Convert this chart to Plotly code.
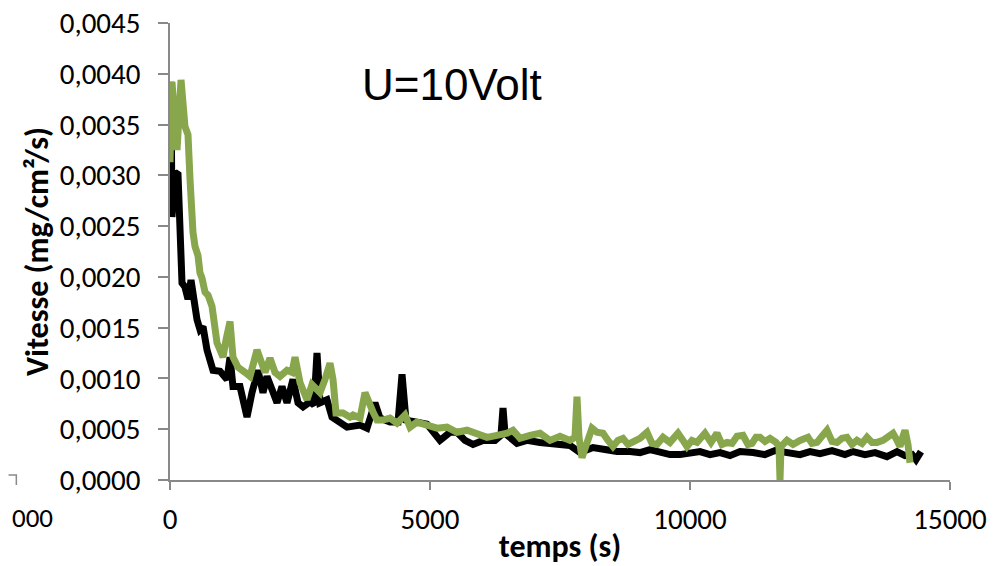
import plotly.graph_objects as go

# ---- data ----
black_t = [0, 19, 38, 96, 154, 192, 231, 288, 346, 404, 462, 519, 577, 635, 712, 827, 962, 1096,
           1154, 1211, 1346, 1481, 1577, 1692, 1788, 1865, 1962, 2058, 2154, 2250, 2365, 2462,
           2558, 2692, 2769, 2827, 2885, 3019, 3115, 3211, 3404, 3654, 3788, 3942, 4038, 4231,
           4385, 4462, 4538, 4750, 4942, 5192, 5385, 5519, 5673, 5827, 6019, 6250, 6365, 6404,
           6442, 6673, 6865, 7115, 7404, 7692, 7885, 8135, 8365, 8596, 8846, 9038, 9231, 9423,
           9615, 9808, 10000, 10192, 10385, 10577, 10769, 10962, 11212, 11442, 11635, 11865,
           12115, 12308, 12500, 12731, 12981, 13135, 13365, 13558, 13788, 13981, 14135, 14269,
           14346, 14442]
black_v = [0.00316, 0.00392, 0.00259, 0.00303, 0.00301, 0.00227, 0.00194, 0.00190, 0.00178,
           0.00197, 0.00173, 0.00158, 0.00148, 0.00151, 0.00128, 0.00108, 0.00107, 0.00099,
           0.00121, 0.00092, 0.00092, 0.00062, 0.00086, 0.00108, 0.00086, 0.00102, 0.00089,
           0.00076, 0.00092, 0.00076, 0.00099, 0.00076, 0.00072, 0.00077, 0.00074, 0.00125,
           0.00076, 0.00079, 0.00062, 0.00059, 0.00052, 0.00054, 0.00051, 0.00076, 0.00061,
           0.00057, 0.00057, 0.00104, 0.00059, 0.00057, 0.00055, 0.00039, 0.00047, 0.00047,
           0.00039, 0.00035, 0.00039, 0.00039, 0.00044, 0.00071, 0.00046, 0.00036, 0.00039,
           0.00037, 0.00035, 0.00034, 0.00027, 0.00032, 0.00030, 0.00028, 0.00028, 0.00027,
           0.00030, 0.00028, 0.00025, 0.00025, 0.00027, 0.00028, 0.00025, 0.00027, 0.00024,
           0.00028, 0.00027, 0.00025, 0.00029, 0.00027, 0.00025, 0.00028, 0.00026, 0.00029,
           0.00025, 0.00028, 0.00025, 0.00027, 0.00023, 0.00028, 0.00024, 0.00025, 0.00020,
           0.00028]

green_t = [0, 38, 135, 212, 288, 346, 385, 404, 442, 481, 538, 577, 615, 673, 731, 808, 846,
           904, 962, 1019, 1077, 1154, 1211, 1308, 1442, 1538, 1673, 1769, 1827, 1923, 2019,
           2115, 2250, 2346, 2404, 2500, 2635, 2731, 2885, 2981, 3077, 3135, 3192, 3327, 3461,
           3519, 3654, 3750, 3808, 3904, 3981, 4096, 4231, 4365, 4519, 4615, 4750, 4942, 5135,
           5327, 5519, 5712, 5904, 6096, 6288, 6481, 6596, 6731, 6923, 7115, 7308, 7500, 7692,
           7788, 7827, 7865, 7923, 8000, 8115, 8211, 8327, 8423, 8519, 8615, 8711, 8808, 8904,
           9038, 9173, 9269, 9365, 9481, 9615, 9769, 9865, 9942, 10038, 10135, 10288, 10404,
           10519, 10615, 10712, 10808, 10904, 11019, 11115, 11192, 11269, 11346, 11442, 11538,
           11654, 11712, 11731, 11750, 11865, 11981, 12115, 12269, 12346, 12442, 12538, 12635,
           12731, 12827, 12923, 13019, 13115, 13211, 13308, 13404, 13500, 13596, 13711, 13808,
           13904, 13981, 14038, 14096, 14135, 14192, 14231]
green_v = [0.00313, 0.00392, 0.00325, 0.00394, 0.00348, 0.00340, 0.00296, 0.00256, 0.00244,
           0.00230, 0.00221, 0.00204, 0.00199, 0.00185, 0.00182, 0.00171, 0.00158, 0.00135,
           0.00128, 0.00121, 0.00138, 0.00156, 0.00121, 0.00111, 0.00106, 0.00102, 0.00128,
           0.00115, 0.00106, 0.00120, 0.00106, 0.00102, 0.00108, 0.00106, 0.00121, 0.00096,
           0.00079, 0.00094, 0.00086, 0.00099, 0.00115, 0.00099, 0.00066, 0.00066, 0.00062,
           0.00064, 0.00061, 0.00086, 0.00077, 0.00067, 0.00059, 0.00059, 0.00061, 0.00056,
           0.00064, 0.00052, 0.00057, 0.00054, 0.00051, 0.00052, 0.00047, 0.00049, 0.00046,
           0.00042, 0.00044, 0.00046, 0.00049, 0.00041, 0.00044, 0.00046, 0.00039, 0.00043,
           0.00039, 0.00042, 0.00082, 0.00042, 0.00022, 0.00035, 0.00051, 0.00047, 0.00046,
           0.00039, 0.00033, 0.00039, 0.00041, 0.00035, 0.00037, 0.00041, 0.00047, 0.00036,
           0.00035, 0.00042, 0.00037, 0.00046, 0.00039, 0.00033, 0.00039, 0.00037, 0.00046,
           0.00037, 0.00046, 0.00035, 0.00037, 0.00036, 0.00043, 0.00044, 0.00035, 0.00036,
           0.00042, 0.00042, 0.00038, 0.00041, 0.00037, 0.00033, 0.00000, 0.00033, 0.00039,
           0.00035, 0.00039, 0.00042, 0.00036, 0.00037, 0.00043, 0.00049, 0.00038, 0.00037,
           0.00041, 0.00042, 0.00035, 0.00039, 0.00036, 0.00042, 0.00037, 0.00037, 0.00039,
           0.00042, 0.00046, 0.00039, 0.00033, 0.00043, 0.00049, 0.00035, 0.00017]

x_ticks = [0, 5000, 10000, 15000]
y_ticks = [0.0, 0.0005, 0.0010, 0.0015, 0.0020, 0.0025, 0.0030, 0.0035, 0.0040, 0.0045]

FONT = "Carlito, Lato, sans-serif"
AXIS_GRAY = "#898989"

fig = go.Figure()
fig.add_trace(go.Scatter(x=black_t, y=black_v, mode="lines",
                         line=dict(color="#000000", width=7), showlegend=False))
fig.add_trace(go.Scatter(x=green_t, y=green_v, mode="lines",
                         line=dict(color="#88A64B", width=7), showlegend=False))

fig.update_layout(
    width=990, height=558,
    margin=dict(l=162, r=48, t=15, b=86, autoexpand=False),
    paper_bgcolor="white", plot_bgcolor="white",
    separators=", ",
    font=dict(family=FONT, color="#000000"),
    showlegend=False,
)
fig.update_xaxes(
    range=[0, 15000], tickvals=x_ticks, tickformat="d", automargin=False,
    showline=True, linecolor=AXIS_GRAY, linewidth=1.5,
    ticks="outside", ticklen=8, tickcolor=AXIS_GRAY, tickwidth=1.5,
    showgrid=False, zeroline=False, ticklabeloverflow="allow",
    tickfont=dict(size=29, family=FONT), ticklabelstandoff=4,
    title=dict(text="<b>temps (s)</b>", font=dict(size=32, family=FONT), standoff=8),
)
fig.update_yaxes(
    range=[0, 0.0045], tickvals=y_ticks, tickformat=".4f", automargin=False,
    showline=True, linecolor=AXIS_GRAY, linewidth=1.5,
    ticks="outside", ticklen=10, tickcolor=AXIS_GRAY, tickwidth=1.5,
    showgrid=False, zeroline=False, ticklabeloverflow="allow",
    tickfont=dict(size=29, family=FONT), ticklabelstandoff=12,
    title=dict(text="<b>Vitesse (mg/cm²/s)</b>", font=dict(size=32, family=FONT), standoff=2),
)

fig.add_annotation(text="U=10Volt", xref="paper", yref="paper", x=0.361, y=0.866,
                   xanchor="center", yanchor="middle", showarrow=False,
                   font=dict(size=44, family="Liberation Sans, Arial, sans-serif", color="#000000"))
# fragment of a neighbouring chart visible at the left edge
fig.add_annotation(text="000", xref="paper", yref="paper", x=-0.147, y=-0.083,
                   xanchor="right", yanchor="middle", showarrow=False,
                   font=dict(size=27, family=FONT, color="#000000"))
fig.add_shape(type="path", xref="paper", yref="paper",
              path="M -0.207 0.011 L -0.197 0.011 L -0.197 -0.011",
              line=dict(color=AXIS_GRAY, width=1.5))

fig.write_html("out.html")
